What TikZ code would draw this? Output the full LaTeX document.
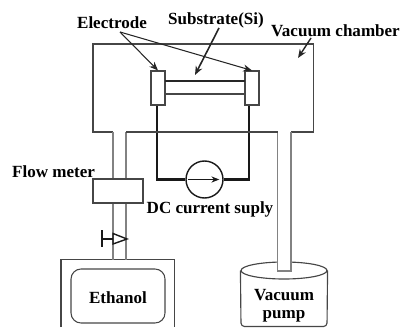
\documentclass[tikz,border=0pt]{standalone}
\usepackage{fontspec}
\setmainfont{Liberation Serif}
\usetikzlibrary{arrows.meta, shapes.geometric}
\definecolor{wallgray}{RGB}{70,70,70}
\definecolor{tubegray}{RGB}{130,130,130}
\tikzset{
    caption/.style={font=\fontsize{9.7}{11}\selectfont\bfseries, inner sep=0pt},
    wall/.style={draw=wallgray, line width=0.65pt},
    tube/.style={draw=tubegray, line width=0.85pt},
    wire/.style={draw=black!90, line width=1.2pt},
    pointer/.style={draw=black!85, line width=0.6pt, -{Stealth[length=5pt,width=4pt]}},
    electrode/.style={draw=wallgray, line width=0.6pt, fill=white, minimum width=0.28cm, minimum height=0.68cm, inner sep=0pt},
    valve/.style={draw=black!90, line width=0.8pt},
}
\begin{document}
\begin{tikzpicture}[x=0.02cm, y=-0.02cm]
        \useasboundingbox (0, 0) rectangle (401, 327);

        \draw[wall] (113, 132) -- (93, 132) -- (93, 44) -- (313.5, 44) -- (313.5, 132) -- (291, 132);
        \draw[wall] (126, 132) -- (277.5, 132);
        \draw[wall] (61, 327) -- (61, 259.5) -- (174.5, 259.5) -- (174.5, 327);

        \draw[tube] (113, 132) -- (113, 259.5);
        \draw[tube] (126, 132) -- (126, 259.5);

        \node[draw=wallgray, line width=0.65pt, fill=white, minimum width=1cm, minimum height=0.48cm, inner sep=0pt] (meter) at (118, 191) {};
        \node[electrode] (elecleft) at (158, 88) {};
        \node[electrode] (elecright) at (252, 88) {};
        \coordinate (subtopleft) at (165, 81);
        \coordinate (subtopright) at (245, 81);
        \coordinate (subbotleft) at (165, 94);
        \coordinate (subbotright) at (245, 94);
        \draw[draw=black!85, line width=0.6pt] (subtopleft) -- (subtopright);
        \draw[wall] (subbotleft) -- (subbotright);

        \node[draw=black!90, line width=0.8pt, circle, minimum size=0.74cm, inner sep=0pt] (supply) at (204.5, 179.5) {};
        \draw[wire] ([xshift=-0.02cm]elecleft.south) |- (supply.west);
        \draw[wire] ([xshift=-0.06cm]elecright.south) |- (supply.east);
        \draw[draw=black!90, line width=0.7pt, shorten <=1.5pt, shorten >=2.5pt, -{Stealth[length=4.5pt,width=3.5pt]}] (supply.west) -- (supply.east);

        \node[caption] (electrodelabel) at (112, 23) {Electrode};
        \node[caption] (substratelabel) at (216, 20) {Substrate(Si)};
        \node[caption] (chamberlabel) at (335.5, 31) {Vacuum chamber};
        \node[caption] (meterlabel) at (53.5, 172) {Flow meter};
        \node[caption] (supplylabel) at (210, 209) {DC current suply};

        \coordinate (electrodetail) at (120, 32);
        \coordinate (substratetail) at (219, 28);
        \coordinate (substratehead) at (195, 75);
        \coordinate (chambertail) at (311, 38);
        \coordinate (chamberhead) at (298, 58);
        \draw[pointer] (electrodetail) -- (elecleft.north);
        \draw[pointer] (electrodetail) -- (elecright.north);
        \draw[pointer, line width=0.9pt] (substratetail) -- (substratehead);
        \draw[pointer, line width=0.8pt] (chambertail) -- (chamberhead);

        \coordinate (valvetop) at (102, 230);
        \coordinate (valvebottom) at (102, 246.5);
        \coordinate (valvestem) at (102, 239);
        \coordinate (valveleft) at (113, 239);
        \coordinate (valveup) at (113, 233.5);
        \coordinate (valvetip) at (127, 239);
        \coordinate (valvedown) at (113, 244);
        \draw[valve] (valvetop) -- (valvebottom);
        \draw[valve] (valvestem) -- (valveleft);
        \draw[valve] (valveup) -- (valvetip) -- (valvedown) -- cycle;

        \node[draw=wallgray, line width=0.6pt, rounded corners=0.2cm, minimum width=1.88cm, minimum height=1.08cm, inner sep=0pt] (ethanol) at (118, 296) {};
        \node[caption] (ethanollabel) at (118, 298) {Ethanol};

        \node[draw=wallgray, line width=0.65pt, ellipse, minimum width=1.72cm, minimum height=0.34cm, inner sep=0pt] (pumplid) at (284, 270.5) {};
        \draw[tube, fill=white] (277.5, 132) -- (277.5, 271) -- (291, 271) -- (291, 132);
        \draw[wall] (126, 132) -- (277.5, 132);
        \draw[wall, rounded corners=2pt] (pumplid.west) -- (241, 326.5) -- (327, 326.5) -- (pumplid.east);
        \node[caption] (pumptop) at (284, 295) {Vacuum};
        \node[caption] (pumpbottom) at (284, 316) {pump};
    \end{tikzpicture}
\end{document}
